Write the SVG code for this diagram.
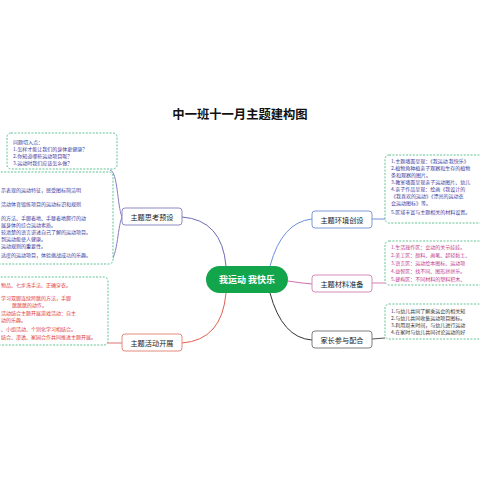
<svg xmlns="http://www.w3.org/2000/svg" width="480" height="480" viewBox="0 0 480 480">
<style>
text{font-family:"Noto Sans CJK SC","Noto Sans CJK JP",sans-serif}
.title{font-size:12.3px;font-weight:bold;fill:#111;text-anchor:middle}
.node rect{fill:#fff;stroke-width:0.9}
.nt{font-size:7.2px;fill:#222;text-anchor:middle}
.dash{fill:#fff;stroke:#3cb37a;stroke-width:0.8;stroke-dasharray:2 1.4}
.t{font-size:5px}
.blue{fill:#3c3c9c}
.red{fill:#e0403a}
.mag{fill:#c0408a}
.dark{fill:#333}
.conn path{fill:none;stroke-width:1}
</style>
<rect width="480" height="480" fill="#fff"/>
<text class="title" x="240" y="119">中一班十一月主题建构图</text>

<g id="connectors" class="conn">
<path d="M182,217 Q222,220 226,266" stroke="#6b6bb5"/>
<path d="M182,343 Q222,340 226,293" stroke="#e06050"/>
<path d="M270,266 Q282,222 312,219" stroke="#6a90e0"/>
<path d="M288,281 Q300,283 312,284" stroke="#d070b0"/>
<path d="M270,293 Q282,338 312,340" stroke="#333"/>
<path d="M110,170 C118,172 117,205 122,217 C117,229 118,260 108,263" stroke="#8080c0"/>
<path d="M106,343 L122,343" stroke="#e07070"/>
<path d="M372,219 L385,219" stroke="#7090d0"/>
<path d="M372,283 L385,283" stroke="#d080b0"/>
<path d="M372,339 L385,338" stroke="#555"/>
</g>

<g id="center">
<rect x="206" y="266" width="82" height="27" rx="13.5" fill="#13a54c"/>
<text x="247" y="283" font-size="9" font-weight="bold" fill="#fff" text-anchor="middle">我运动 我快乐</text>
</g>

<g id="n-think" class="node">
<rect x="122" y="208" width="60" height="17" rx="3" stroke="#8080c0"/>
<text class="nt" x="152" y="219.5">主题思考预设</text>
</g>
<g id="n-activity" class="node">
<rect x="122" y="334" width="60" height="17" rx="3" stroke="#e08070"/>
<text class="nt" x="152" y="345.5">主题活动开展</text>
</g>
<g id="n-env" class="node">
<rect x="312" y="211" width="60" height="17" rx="3" stroke="#7090d0"/>
<text class="nt" x="342" y="222.5">主题环境创设</text>
</g>
<g id="n-material" class="node">
<rect x="312" y="275" width="60" height="17" rx="3" stroke="#d080b0"/>
<text class="nt" x="342" y="286.5">主题材料准备</text>
</g>
<g id="n-parent" class="node">
<rect x="312" y="331" width="60" height="17" rx="3" stroke="#707070"/>
<text class="nt" x="342" y="342.5">家长参与配合</text>
</g>

<g id="d-question">
<rect class="dash" x="7" y="133" width="110" height="36" rx="4"/>
<text class="t blue" x="13" y="144">问题切入点：</text>
<text class="t blue" x="13" y="151">1.怎样才能让我们的身体更健康？</text>
<text class="t blue" x="13" y="158">2.你知道哪些运动项目呢？</text>
<text class="t blue" x="13" y="165">3.运动时我们应该怎么做？</text>
</g>

<g id="d-goals">
<rect class="dash" x="-10" y="172" width="123" height="92" rx="4"/>
<text class="t blue" x="1" y="192">示表现的运动特征，感受图标简洁明</text>
<text class="t blue" x="1" y="206">活动体育锻炼项目的运动标识和规则</text>
<text class="t blue" x="1" y="220">的方法、手脚着地、手膝着地爬行的动</text>
<text class="t blue" x="1" y="227">展身体的综合运动素质。</text>
<text class="t blue" x="1" y="234">较清楚的语言讲述自己了解的运动项目。</text>
<text class="t blue" x="1" y="241">到运动能使人健康。</text>
<text class="t blue" x="1" y="248">运动规则的重要性。</text>
<text class="t blue" x="1" y="257">适度的运动项目，体验挑战成功的乐趣。</text>
</g>

<g id="d-activity">
<rect class="dash" x="-10" y="277" width="118" height="68" rx="4"/>
<text class="t red" x="1" y="287">物品、七步洗手法、正确穿衣。</text>
<text class="t red" x="1" y="300">学习双脚连续跨跳的方法，手脚</text>
<text class="t red" x="12" y="307">跳跳跳的动作。</text>
<text class="t red" x="1" y="315">活动结合主题开展游戏活动：自主</text>
<text class="t red" x="1" y="322">动的乐趣。</text>
<text class="t red" x="1" y="331">、小组活动、个别化学习相结合。</text>
<text class="t red" x="1" y="339">结合、渗透、家园合作共同推进主题开展。</text>
</g>

<g id="d-env">
<rect class="dash" x="385" y="155" width="110" height="68" rx="4"/>
<text class="t blue" x="391" y="163">1.主题墙面呈现：《我运动 我快乐》</text>
<text class="t blue" x="391" y="170">2.植物角种植亲子观察和生存的植物</text>
<text class="t blue" x="391" y="177">条和观察的图片。</text>
<text class="t blue" x="391" y="184">3.教室墙面呈现亲子运动图片、幼儿</text>
<text class="t blue" x="391" y="191">4.亲子作品呈现：绘画《我设计的</text>
<text class="t blue" x="391" y="198">《我喜欢的运动》《漂亮的运动衣</text>
<text class="t blue" x="391" y="205">会运动图标》等。</text>
<text class="t blue" x="391" y="214">5.区域丰富与主题相关的材料设置。</text>
</g>

<g id="d-material">
<rect class="dash" x="385" y="241" width="110" height="44" rx="4"/>
<text class="t mag" x="391" y="249">1.生活操作区：会动的关节娃娃。</text>
<text class="t mag" x="391" y="257">2.美工区：颜料、画笔、超轻黏土、</text>
<text class="t mag" x="391" y="265">3.语言区：运动绘本图标、运动项</text>
<text class="t mag" x="391" y="273">4.益智区：找不同、图形拼拼乐。</text>
<text class="t mag" x="391" y="281">5.建构区：不同材料的塑料积木、</text>
</g>

<g id="d-parent">
<rect class="dash" x="385" y="304" width="110" height="35" rx="4"/>
<text class="t dark" x="391" y="312.5">1.与幼儿共同了解乘运会的相关知</text>
<text class="t dark" x="391" y="319.5">2.与幼儿共同收集运动项目图标。</text>
<text class="t dark" x="391" y="326.5">3.利用周末时间，与幼儿进行运动</text>
<text class="t dark" x="391" y="333.5">4.在家时与幼儿共同讨论运动的好</text>
</g>
</svg>
